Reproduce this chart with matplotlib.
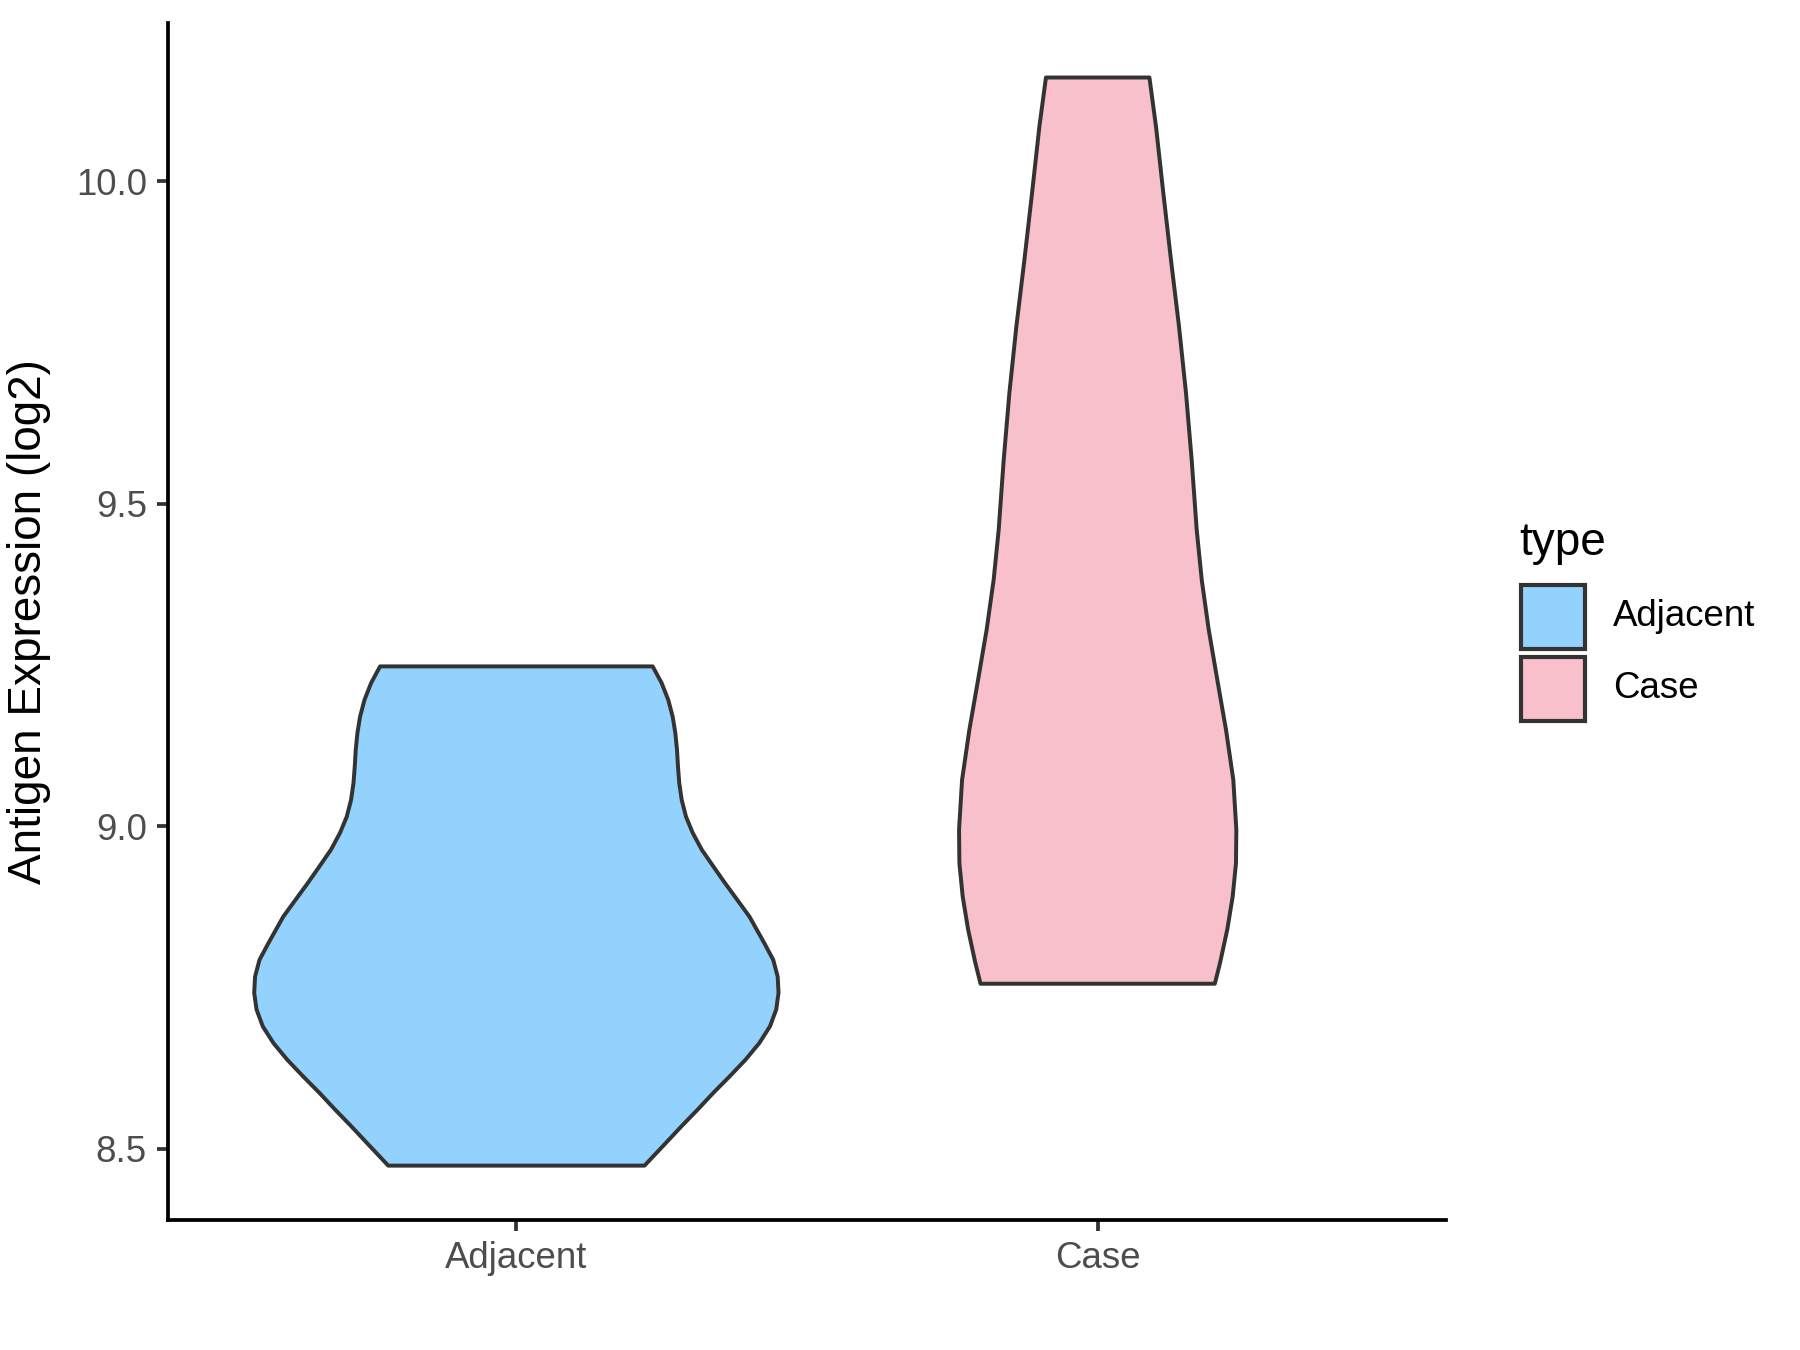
import numpy as np
import matplotlib.pyplot as plt
from matplotlib.patches import Rectangle

plt.rcParams['font.family'] = ['Liberation Sans', 'DejaVu Sans']

groups = ['Adjacent', 'Case']
fills = ['#92D2FD', '#F8C0CB']
edge = '#333333'

# violin outlines: expression level and half width (x units)
adj_y = [9.248, 9.222, 9.196, 9.170, 9.145, 9.119, 9.093, 9.067, 9.041, 9.015,
         8.990, 8.964, 8.938, 8.912, 8.886, 8.860, 8.819, 8.793, 8.767,
         8.742, 8.716, 8.690, 8.664, 8.638, 8.612, 8.587, 8.561, 8.535, 8.509,
         8.474]
adj_hw = [0.2345, 0.250, 0.2613, 0.2689, 0.2734, 0.2763, 0.2780, 0.2802, 0.2844, 0.2918,
          0.3033, 0.3188, 0.3387, 0.3589, 0.3800, 0.4010, 0.4265, 0.4419, 0.4495,
          0.4510, 0.4470, 0.4363, 0.4179, 0.3940, 0.3665, 0.3390, 0.3120, 0.2840, 0.2570,
          0.2204]

case_y = [10.161, 10.085, 9.982, 9.878, 9.775, 9.672, 9.568, 9.460, 9.382, 9.305,
          9.227, 9.150, 9.072, 8.995, 8.943, 8.891, 8.840, 8.788, 8.756]
case_hw = [0.0890, 0.1003, 0.1129, 0.1261, 0.1399, 0.1519, 0.1617, 0.1703, 0.1790, 0.1910,
           0.2058, 0.2207, 0.2333, 0.2385, 0.2379, 0.2322, 0.2229, 0.2104, 0.2015]

yticks = [8.5, 9.0, 9.5, 10.0]

fig = plt.figure(figsize=(6, 4.5), dpi=300)
ax = fig.add_axes([0.0931, 0.0963, 0.7105, 0.8867])

for i, (ys, hws) in enumerate([(adj_y, adj_hw), (case_y, case_hw)]):
    c = i + 1
    ys = np.array(ys)
    hws = np.array(hws)
    xs = np.concatenate([c + hws, (c - hws)[::-1]])
    yy = np.concatenate([ys, ys[::-1]])
    ax.fill(xs, yy, facecolor=fills[i], edgecolor=edge, linewidth=0.95,
            joinstyle='round', zorder=2)

ax.set_xlim(0.4, 2.6)
ax.set_ylim(8.3897, 10.2456)
ax.set_xticks([1, 2])
ax.set_xticklabels(groups)
ax.set_yticks(yticks)
ax.set_yticklabels(['%.1f' % v for v in yticks])
ax.tick_params(labelsize=8.8, labelcolor='#4D4D4D', color='#333333',
               length=2.75, width=0.9, pad=2.2)
for s in ['top', 'right']:
    ax.spines[s].set_visible(False)
for s in ['left', 'bottom']:
    ax.spines[s].set_linewidth(0.9)
    ax.spines[s].set_color('black')
ax.set_ylabel('Antigen Expression (log2)', fontsize=11, labelpad=6)

# legend
W, H = 1800.0, 1350.0
fig.text(1519 / W, 1 - 543 / H, 'type', fontsize=11, va='center', ha='left')
key_tops = [584, 656]
for i, g in enumerate(groups):
    top = key_tops[i]
    fig.patches.append(Rectangle((1521 / W, 1 - (top + 65) / H), 64 / W, 64 / H,
                                 transform=fig.transFigure, facecolor=fills[i],
                                 edgecolor=edge, linewidth=1.0))
    fig.text(1613 / W, 1 - (top + 33) / H, g, fontsize=8.8, va='center', ha='left')

fig.savefig('out.png', dpi=300)
